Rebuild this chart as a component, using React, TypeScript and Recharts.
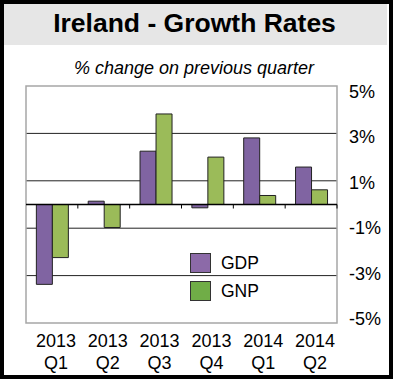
import React from "react"
import { BarChart, Bar, XAxis, YAxis, CartesianGrid, ReferenceLine, ReferenceArea } from "recharts"

// quarterly growth, % change on previous quarter
const quarters = ["2013 Q1", "2013 Q2", "2013 Q3", "2013 Q4", "2014 Q1", "2014 Q2"]
const gdp = [-3.37, 0.14, 2.25, -0.14, 2.81, 1.58]
const gnp = [-2.24, -0.97, 3.82, 2.0, 0.38, 0.62]
const yTicks = [5, 3, 1, -1, -3, -5]
const gridValues = [3, 1, -1, -3]

const data = quarters.map((q, i) => ({ quarter: q, GDP: gdp[i], GNP: gnp[i] }))

const FONT = "'Liberation Sans', Arial, sans-serif"

const YTick = (props: any) => {
  const { x, y, payload } = props
  return (
    <text x={x + 4} y={y + 1 + payload.value} dy={6} fontSize={18} fontFamily={FONT} fill="#000" textAnchor="start">
      {payload.value}%
    </text>
  )
}

const XTick = (props: any) => {
  const { x, y, payload } = props
  const [year, q] = String(payload.value).split(" ")
  return (
    <text x={x + 4} fontSize={18} fontFamily={FONT} fill="#000" textAnchor="middle">
      <tspan x={x + 4} y={y + 16}>{year}</tspan>
      <tspan x={x + 4} y={y + 38}>{q}</tspan>
    </text>
  )
}

// zero line with small tick marks between categories
const ZeroLine = (props: any) => {
  const { x1, y1, x2 } = props
  const n = quarters.length
  const step = (x2 - x1) / n
  return (
    <g>
      <line x1={x1} y1={y1} x2={x2} y2={y1} stroke="#000" strokeWidth={1.5} />
      {quarters.map((_, i) => (
        <line key={i} x1={x1 + step * i} y1={y1} x2={x1 + step * i} y2={y1 + 4} stroke="#000" strokeWidth={1} />
      ))}
    </g>
  )
}

const swatches = [
  { name: "GDP", fill: "#8c6aa8" },
  { name: "GNP", fill: "#70ad47" },
]

export default function App() {
  return (
    <div style={{ position: "absolute", left: 0, top: 0, width: 395, height: 380, background: "#fff", overflow: "hidden" }}>
      <div style={{ position: "absolute", left: 4, top: 4, width: 383, height: 41, background: "#e6e6e6" }} />
      <div style={{ position: "absolute", left: 0, top: 8, width: 389, textAlign: "center", fontFamily: FONT, fontWeight: "bold", fontSize: 26.5, color: "#000" }}>
        Ireland - Growth Rates
      </div>
      <div style={{ position: "absolute", left: 0, top: 58, width: 388, textAlign: "center", fontFamily: FONT, fontStyle: "italic", fontSize: 18, color: "#000" }}>
        % change on previous quarter
      </div>
      <div style={{ position: "absolute", left: 0, top: 0 }}>
        <BarChart
          width={395}
          height={380}
          data={data}
          margin={{ top: 86, right: 0, left: 26, bottom: 0 }}
          barCategoryGap="20%"
          barGap={0}
        >
          <CartesianGrid vertical={false} horizontalValues={gridValues} stroke="#222" strokeWidth={1} />
          <ReferenceArea y1={-5} y2={5} fill="none" stroke="#a6a6a6" strokeWidth={1.5} ifOverflow="visible" />
          <XAxis dataKey="quarter" height={57} axisLine={false} tickLine={false} tick={<XTick />} interval={0} />
          <YAxis
            orientation="right"
            width={58}
            domain={[-5, 5]}
            ticks={yTicks}
            axisLine={false}
            tickLine={false}
            tick={<YTick />}
          />
          <Bar dataKey="GDP" fill="#8064a2" stroke="#222" strokeWidth={1} isAnimationActive={false} />
          <Bar dataKey="GNP" fill="#9bbb59" stroke="#222" strokeWidth={1} isAnimationActive={false} />
          <ReferenceLine y={0} shape={<ZeroLine />} ifOverflow="visible" />
        </BarChart>
      </div>
      <div style={{ position: "absolute", left: 190, top: 249, fontFamily: FONT, fontSize: 17.5, color: "#000" }}>
        {swatches.map((s) => (
          <div key={s.name} style={{ display: "flex", alignItems: "center", height: 28 }}>
            <div style={{ width: 19, height: 18, background: s.fill, border: "1px solid #333", marginRight: 10 }} />
            <span>{s.name}</span>
          </div>
        ))}
      </div>
      <div style={{ position: "absolute", left: 0, top: 0, width: 393, height: 379, border: "4px solid #000", boxSizing: "border-box", pointerEvents: "none" }} />
    </div>
  )
}
